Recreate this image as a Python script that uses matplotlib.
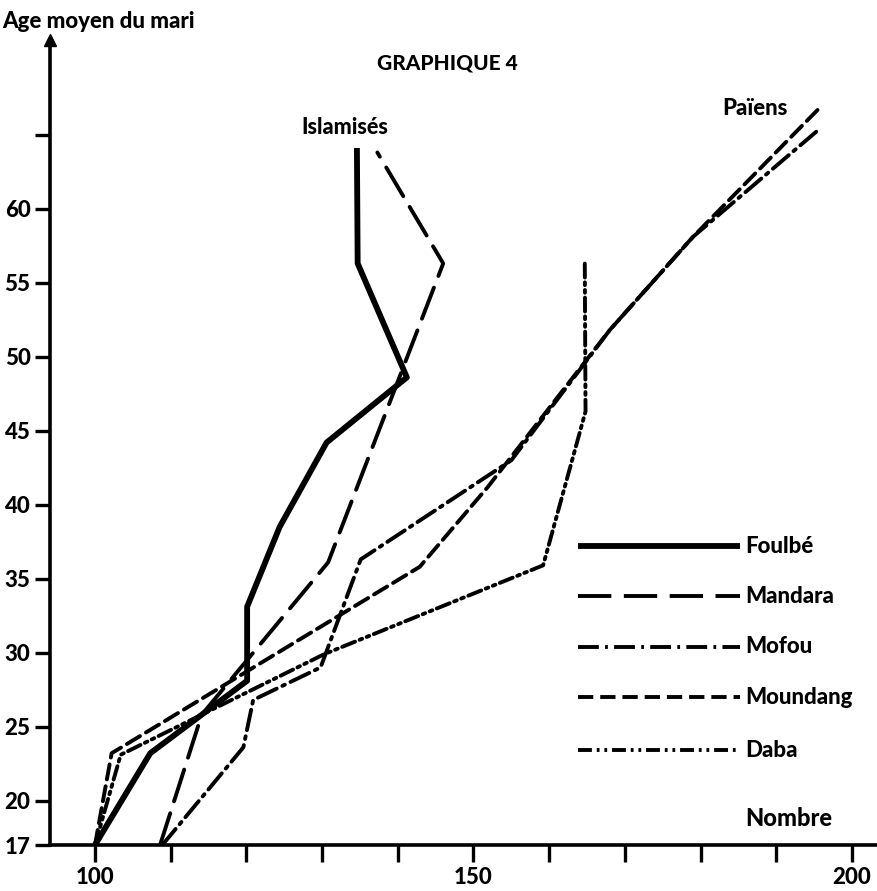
import matplotlib
matplotlib.use("Agg")
import matplotlib.pyplot as plt

# nombre d'enfants pour 100 femmes (x) selon l'age moyen du mari (y)
foulbe_x = [100, 107.3, 120.1, 120.1, 124.4, 130.6, 141.2, 134.7, 134.6]
foulbe_y = [17, 23.2, 28.1, 33.1, 38.5, 44.2, 48.6, 56.3, 64.1]

mandara_x = [108.6, 114.1, 130.8, 146.0, 137.3]
mandara_y = [17, 25.8, 36.1, 56.3, 63.8]

mofou_x = [108.9, 119.6, 120.9, 129.8, 135.1, 155.0, 168.0, 179.0, 195.5]
mofou_y = [17, 23.6, 26.8, 29.0, 36.3, 43.0, 51.8, 58.1, 65.3]

moundang_x = [100, 102.2, 142.9, 151.9, 168.0, 179.0, 195.5]
moundang_y = [17, 23.2, 35.8, 41.2, 51.8, 58.1, 66.7]

daba_x = [100, 103.4, 130.3, 159.2, 164.8, 164.7]
daba_y = [17, 23.1, 29.9, 35.9, 46.3, 56.3]

yticks = [17, 20, 25, 30, 35, 40, 45, 50, 55, 60, 65]
ytick_labels = ['17', '20', '25', '30', '35', '40', '45', '50', '55', '60', '']
xticks = [100, 110, 120, 130, 140, 150, 160, 170, 180, 190, 200]
xtick_labels = ['100', '', '', '', '', '150', '', '', '', '', '200']

legend_names = ['Foulbé', 'Mandara', 'Mofou', 'Moundang', 'Daba']

plt.rcParams['lines.scale_dashes'] = False
bold = dict(family=['Lato', 'DejaVu Sans'], fontweight='black')

fig = plt.figure(figsize=(8.77, 8.91), dpi=100)
ax = fig.add_axes([50 / 877, 46 / 891, 827 / 877, 805 / 891])

styles = [
    dict(lw=4.2, ls='-'),
    dict(lw=2.8, ls=(0, (24, 9))),
    dict(lw=2.8, ls=(0, (15, 4.5, 2, 4.5))),
    dict(lw=2.8, ls=(0, (11, 5))),
    dict(lw=2.8, ls=(0, (10, 3.5, 2, 3.5, 2, 3.5))),
]
series = [(foulbe_x, foulbe_y), (mandara_x, mandara_y), (mofou_x, mofou_y),
          (moundang_x, moundang_y), (daba_x, daba_y)]

for (xs, ys), st in zip(series, styles):
    ax.plot(xs, ys, color='black', solid_capstyle='butt', dash_capstyle='round', **st)

ax.set_xlim(94.06, 203.3)
ax.set_ylim(17, 71.4)

for side in ['top', 'right']:
    ax.spines[side].set_visible(False)
ax.spines['left'].set_linewidth(2.6)
ax.spines['bottom'].set_linewidth(2.6)
ax.plot(0, 1, marker='^', color='black', markersize=9, transform=ax.transAxes, clip_on=False)

ax.set_yticks(yticks)
ax.set_yticklabels(ytick_labels, **bold, fontsize=16)
ax.set_xticks(xticks)
ax.set_xticklabels(xtick_labels, **bold, fontsize=16)
ax.tick_params(axis='y', direction='out', length=11, width=2.4, pad=3)
ax.tick_params(axis='x', direction='out', length=12, width=2.4, pad=4)

# legende tracee a la main, comme sur l'original
leg_y = [37.2, 33.8, 30.4, 27.0, 23.4]
for name, st, yy in zip(legend_names, styles, leg_y):
    ax.plot([163.8, 185.2], [yy, yy], color='black', solid_capstyle='butt', clip_on=False, **st)
    ax.text(185.9, yy, name, va='center', ha='left', fontsize=16, **bold)

fig.text(2 / 877, 1 - 22 / 891, 'Age moyen du mari', va='center', ha='left', fontsize=16, **bold)
fig.text(447 / 877, 1 - 63 / 891, 'GRAPHIQUE 4', va='center', ha='center', fontsize=15, **bold)
ax.text(133.0, 65.5, 'Islamisés', va='center', ha='center', fontsize=15.5, **bold)
ax.text(187.2, 66.8, 'Païens', va='center', ha='center', fontsize=16, **bold)
ax.text(185.9, 18.8, 'Nombre', va='center', ha='left', fontsize=17, **bold)

fig.savefig('out.png', dpi=100)
